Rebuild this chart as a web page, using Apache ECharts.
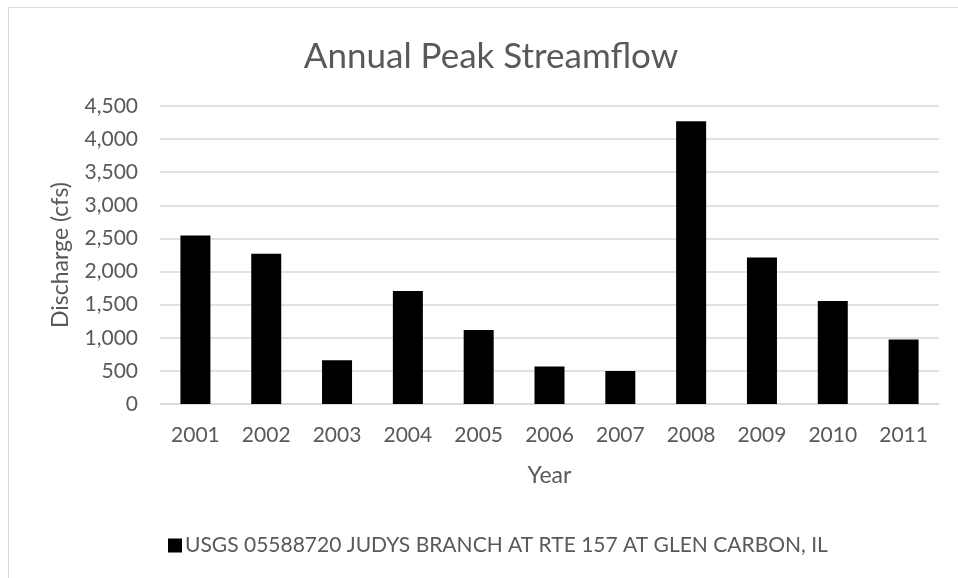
<!DOCTYPE html>
<html lang="en">
<head>
    <meta charset="utf-8">
    <title>Annual Peak Streamflow</title>
    <script src="https://cdn.jsdelivr.net/npm/echarts@6.0.0/dist/echarts.min.js"></script>
    <style>
        html, body { margin: 0; padding: 0; background: #fff; }
        #frame {
            position: absolute; left: 8px; top: 7px; width: 960px; height: 580px;
            border-left: 1px solid #d9d9d9; border-top: 1px solid #d9d9d9;
        }
        #main { position: absolute; left: 0; top: 0; width: 958px; height: 578px; }
    </style>
</head>
<body>
<div id="frame"></div>
<div id="main"></div>

<script type="text/javascript">
    // data
    var years = ['2001', '2002', '2003', '2004', '2005', '2006', '2007', '2008', '2009', '2010', '2011'];
    var discharge = [2545, 2267, 660, 1708, 1119, 565, 499, 4269, 2213, 1557, 973];
    var seriesName = 'USGS 05588720 JUDYS BRANCH AT RTE 157 AT GLEN CARBON, IL';

    var font = 'Lato, "Open Sans", sans-serif';
    var grey = '#595959';

    var myChart = echarts.init(document.getElementById('main'));
    var option = {
        animation: false,
        textStyle: { fontFamily: font },
        title: {
            text: 'Annual Peak Streamflow',
            left: 486,
            top: 34,
            textAlign: 'center',
            textStyle: { fontFamily: font, fontSize: 35, fontWeight: 'normal', color: grey }
        },
        legend: {
            left: 168,
            top: 535,
            padding: 0,
            itemWidth: 14,
            itemHeight: 14,
            icon: 'rect',
            textStyle: { fontFamily: font, fontSize: 21, color: grey, padding: [0, 0, 0, -2] },
            data: [seriesName]
        },
        grid: { left: 160, right: 19, top: 106, bottom: 174 },
        xAxis: {
            type: 'category',
            data: years,
            name: 'Year',
            nameLocation: 'middle',
            nameGap: 60,
            nameTextStyle: { fontFamily: font, fontSize: 23, color: grey },
            axisLine: { lineStyle: { color: '#d9d9d9', width: 1.5 } },
            axisTick: { show: false },
            axisLabel: { fontFamily: font, fontSize: 21, color: grey, margin: 21 }
        },
        yAxis: {
            type: 'value',
            min: 0,
            max: 4500,
            interval: 500,
            name: 'Discharge (cfs)',
            nameLocation: 'middle',
            nameGap: 88,
            nameTextStyle: { fontFamily: font, fontSize: 23, color: grey },
            axisLine: { show: false },
            axisTick: { show: false },
            splitLine: { lineStyle: { color: '#d9d9d9', width: 1.5 } },
            axisLabel: {
                fontFamily: font, fontSize: 21, color: grey, margin: 22,
                formatter: function (v) { return v.toLocaleString('en-US'); }
            }
        },
        series: [{
            name: seriesName,
            type: 'bar',
            data: discharge,
            barWidth: 30,
            itemStyle: { color: '#000' }
        }]
    };
    myChart.setOption(option);
</script>
</body>
</html>
